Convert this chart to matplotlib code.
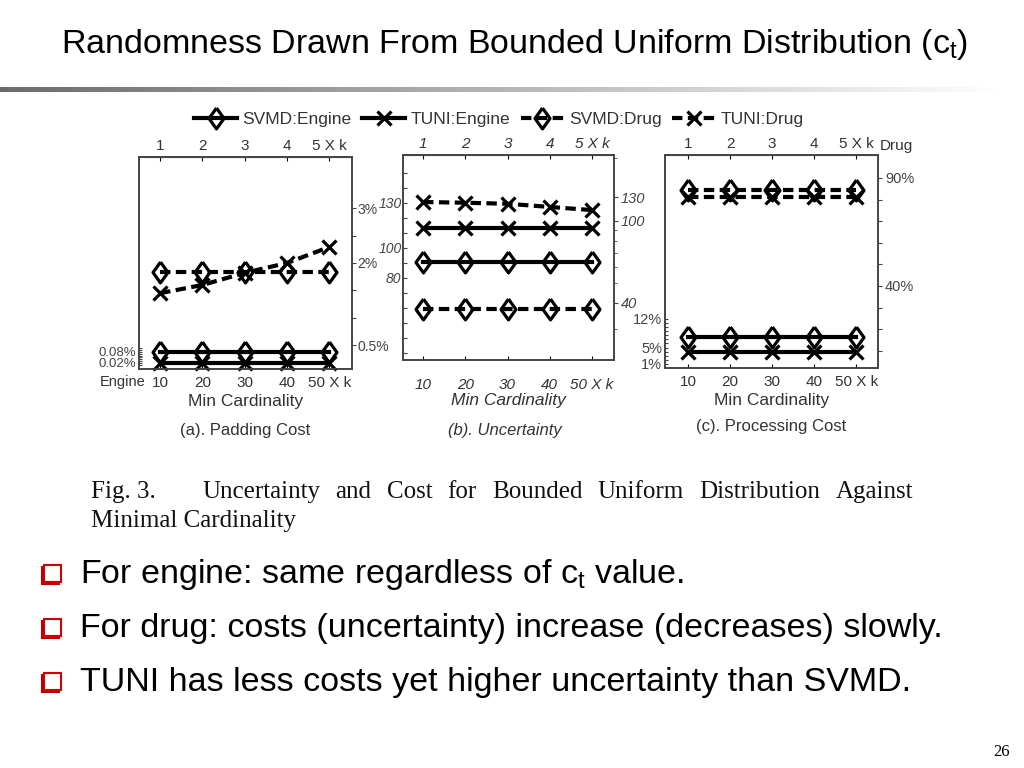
import matplotlib
matplotlib.use("Agg")
import matplotlib.pyplot as plt
import numpy as np
from matplotlib.patches import Rectangle
from matplotlib.lines import Line2D
from matplotlib.ticker import LogLocator, NullFormatter

W, H = 1024, 768
TXT = '#333333'
SANS = ['Liberation Sans', 'DejaVu Sans']
NARROW = ['Liberation Sans Narrow', 'Liberation Sans', 'DejaVu Sans']
SERIF = ['Liberation Serif', 'DejaVu Serif']

# min cardinality (x k), bottom and top axes
card = [10, 20, 30, 40, 50]
card_labels = ['10', '20', '30', '40', '50 X k']
card_top = [1, 2, 3, 4, 5]
card_top_labels = ['1', '2', '3', '4', '5 X k']

series_names = ['SVMD:Engine', 'TUNI:Engine', 'SVMD:Drug', 'TUNI:Drug']

# (a) padding cost, %
pad_svmd_engine = [0.08, 0.08, 0.08, 0.08, 0.08]
pad_tuni_engine = [0.02, 0.02, 0.02, 0.02, 0.02]
pad_svmd_drug = [1.83, 1.83, 1.83, 1.83, 1.83]
pad_tuni_drug = [1.45, 1.6, 1.82, 2.0, 2.29]

# (b) uncertainty
unc_svmd_engine = [90.7, 90.7, 90.7, 90.7, 90.7]
unc_tuni_engine = [113.3, 113.3, 113.3, 113.3, 113.3]
unc_svmd_drug = [37.4, 37.4, 37.4, 37.4, 37.4]
unc_tuni_drug = [123, 122, 120.6, 116.4, 112.4]

# (c) processing cost, %
proc_svmd_engine = [7.6, 7.6, 7.6, 7.6, 7.6]
proc_tuni_engine = [3.9, 3.9, 3.9, 3.9, 3.9]
proc_svmd_drug = [84.4, 84.4, 84.4, 84.4, 84.4]
proc_tuni_drug = [81.2, 81.2, 81.2, 81.2, 81.2]

bullets = ['For engine: same regardless of $\\mathregular{c_t}$ value.',
           'For drug: costs (uncertainty) increase (decreases) slowly.',
           'TUNI has less costs yet higher uncertainty than SVMD.']

diamond = [(0, 1), (0.72, 0), (0, -1), (-0.72, 0), (0, 1)]
styles = {
    'SVMD:Engine': dict(ls='-', marker=diamond, ms=15),
    'TUNI:Engine': dict(ls='-', marker='x', ms=10),
    'SVMD:Drug': dict(ls=(0, (2.5, 1.3)), marker=diamond, ms=15),
    'TUNI:Drug': dict(ls=(0, (2.5, 1.3)), marker='x', ms=10),
}


def draw(ax, y, name):
    st = styles[name]
    ax.plot(card, y, color='black', lw=3, ls=st['ls'], marker=st['marker'],
            ms=st['ms'], mfc='none', mec='black', mew=2.3, clip_on=False, zorder=5)


def px_rect(l, t, r, b):
    return [l / W, 1 - b / H, (r - l) / W, (b - t) / H]


def panel(rect, xl, italic=False, xpad=5):
    style = 'italic' if italic else 'normal'
    ax = fig.add_axes(rect)
    ax.set_xlim(xl)
    ax.set_xticks(card, card_labels, fontsize=11, fontstyle=style, color=TXT, family=SANS)
    ax.tick_params(axis='x', direction='in', length=3, pad=xpad)
    ax.set_xlabel('Min Cardinality', fontsize=12.5, fontstyle=style, color=TXT,
                  family=SANS, labelpad=3)
    top = ax.secondary_xaxis('top', functions=(lambda x: x / 10, lambda x: x * 10))
    top.set_xticks(card_top, card_top_labels, fontsize=11, fontstyle=style,
                   color=TXT, family=SANS)
    top.tick_params(direction='in', length=3, pad=3)
    axr = ax.twinx()
    for a in (ax, axr):
        for s in a.spines.values():
            s.set_color('#444444')
            s.set_linewidth(1.2)
    top.spines['top'].set_color('#444444')
    ax.tick_params(axis='y', direction='in', length=3, color='#444444', pad=2)
    axr.tick_params(axis='y', direction='out', length=3, color='#444444', pad=2)
    return ax, axr


def set_yt(a, ticks, labels, size, italic=False):
    a.set_yticks(ticks, labels, fontsize=size, color='#444444', family=SANS,
                 fontstyle='italic' if italic else 'normal')


fig = plt.figure(figsize=(W / 100, H / 100), dpi=100)

# title and gradient rule
fig.text(515 / W, 1 - 45 / H,
         'Randomness Drawn From Bounded Uniform Distribution $\\mathregular{(c_t)}$',
         ha='center', va='center', fontsize=24.5, family=NARROW, color='black')
bar = fig.add_axes(px_rect(0, 87, 1010, 92))
bar.imshow(np.linspace(0.42, 1.0, 256)[None, :], cmap='gray', vmin=0, vmax=1,
           aspect='auto', extent=(0, 1, 0, 1))
bar.axis('off')

# (a) padding cost
ax, axr = panel(px_rect(139, 157, 352, 369), (5.0, 55.4))
ax.set_ylim(-0.013, 1.143)
labs = ['' for _ in range(10)]
labs[1], labs[7] = '0.02%', '0.08%'
set_yt(ax, np.round(np.arange(0.01, 0.105, 0.01), 2), labs, 9.5)
ax.tick_params(axis='y', length=2)
axr.set_ylim(0.07, 3.93)
set_yt(axr, [0.5, 1.0, 1.5, 2.0, 2.5, 3.0], ['0.5%', '', '', '2%', '', '3%'], 10)
axr.tick_params(axis='y', pad=1)
draw(ax, pad_svmd_engine, 'SVMD:Engine')
draw(ax, pad_tuni_engine, 'TUNI:Engine')
draw(axr, pad_svmd_drug, 'SVMD:Drug')
draw(axr, pad_tuni_drug, 'TUNI:Drug')
fig.text(123 / W, 1 - 382 / H, 'Engine', ha='center', va='center', fontsize=10.5,
         color=TXT, family=SANS)

# (b) uncertainty
ax, axr = panel(px_rect(403, 155, 614, 360), (5.25, 55.2), italic=True, xpad=13)
ax.set_ylim(25.3, 162)
ticks = list(range(30, 160, 10))
set_yt(ax, ticks, [str(t) if t in (80, 100, 130) else '' for t in ticks], 10, italic=True)
ax.tick_params(axis='y', pad=1)
axr.set_yscale('log')
axr.set_ylim(21.2, 207.5)
set_yt(axr, [40, 100, 130], ['40', '100', '130'], 10.5, italic=True)
axr.yaxis.set_minor_locator(LogLocator(subs='all'))
axr.yaxis.set_minor_formatter(NullFormatter())
axr.tick_params(axis='y', which='minor', direction='out', length=2, color='#444444')
ax.xaxis.labelpad = 1
draw(ax, unc_svmd_engine, 'SVMD:Engine')
draw(ax, unc_tuni_engine, 'TUNI:Engine')
draw(axr, unc_svmd_drug, 'SVMD:Drug')
draw(axr, unc_tuni_drug, 'TUNI:Drug')

# (c) processing cost
ax, axr = panel(px_rect(665, 155, 878, 368), (4.5, 55.2))
ax.set_ylim(0.02, 51.98)
ticks = list(range(1, 13))
set_yt(ax, ticks, [f'{t}%' if t in (1, 5, 12) else '' for t in ticks], 10.5)
ax.tick_params(axis='y', length=2)
axr.set_ylim(2.04, 100.6)
ticks = list(range(10, 100, 10))
set_yt(axr, ticks, [f'{t}%' if t in (40, 90) else '' for t in ticks], 10.5)
draw(ax, proc_svmd_engine, 'SVMD:Engine')
draw(ax, proc_tuni_engine, 'TUNI:Engine')
draw(axr, proc_svmd_drug, 'SVMD:Drug')
draw(axr, proc_tuni_drug, 'TUNI:Drug')
fig.text(896 / W, 1 - 146 / H, 'Drug', ha='center', va='center', fontsize=11,
         color=TXT, family=SANS)

# legend
handles = [Line2D([], [], color='black', lw=3, ls=styles[n]['ls'], marker=styles[n]['marker'],
                  ms=styles[n]['ms'], mfc='none', mec='black', mew=2.3) for n in series_names]
leg = fig.legend(handles, series_names, loc='center', bbox_to_anchor=(499 / W, 1 - 119 / H),
                 ncol=4, frameon=False, handlelength=2.5, handletextpad=0.3,
                 columnspacing=0.6, prop={'family': SANS, 'size': 12.5})
for t in leg.get_texts():
    t.set_color(TXT)

# sub captions
fig.text(245 / W, 1 - 431 / H, '(a). Padding Cost', ha='center', va='center',
         fontsize=12, color=TXT, family=SANS)
fig.text(505 / W, 1 - 430 / H, '(b). Uncertainty', ha='center', va='center',
         fontsize=12, color=TXT, family=SANS, fontstyle='italic')
fig.text(771 / W, 1 - 427 / H, '(c). Processing Cost', ha='center', va='center',
         fontsize=12, color=TXT, family=SANS)

# figure caption, first line justified
r = fig.canvas.get_renderer()
fig.text(91 / W, 1 - 492 / H, 'Fig. 3.', ha='left', va='center', fontsize=18,
         family=SERIF, color='#111111')
words = 'Uncertainty and Cost for Bounded Uniform Distribution Against'.split()
texts = [fig.text(0, 1 - 492 / H, w, ha='left', va='center', fontsize=18, family=SERIF,
                  color='#111111') for w in words]
widths = [t.get_window_extent(r).width for t in texts]
gap = (913 - 202 - sum(widths)) / (len(words) - 1)
x = 202
for t, w in zip(texts, widths):
    t.set_x(x / W)
    x += w + gap
fig.text(91 / W, 1 - 521 / H, 'Minimal Cardinality', ha='left', va='center', fontsize=18,
         family=SERIF, color='#111111')

# bullets
for i, b in enumerate(bullets):
    yc = 574 + 54 * i
    fig.add_artist(Rectangle((41 / W, 1 - (yc + 11) / H), 19 / W, 19 / H,
                             transform=fig.transFigure, facecolor='#c00000', edgecolor='none'))
    fig.add_artist(Rectangle((44 / W, 1 - (yc + 8) / H), 17 / W, 17 / H,
                             transform=fig.transFigure, facecolor='white',
                             edgecolor='#d00000', lw=1.5))
    fig.text(80 / W, 1 - yc / H, b, ha='left', va='center', fontsize=24.5, family=NARROW,
             color='black')

fig.text(1010 / W, 1 - 752 / H, '26', ha='right', va='center', fontsize=12,
         family=SERIF, color='black')

fig.savefig('out.png', dpi=100)
